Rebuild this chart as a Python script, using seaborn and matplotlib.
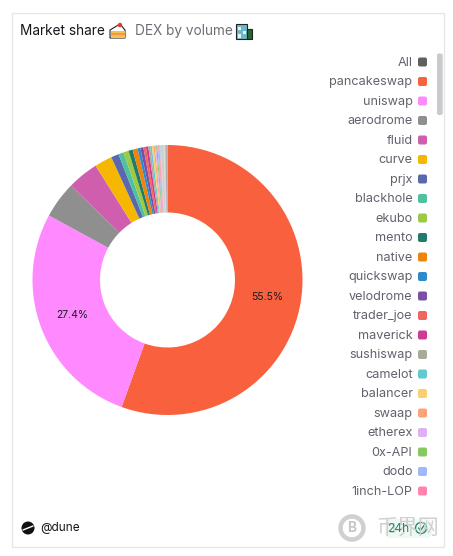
import matplotlib
matplotlib.use("Agg")
import matplotlib.pyplot as plt
import seaborn as sns
from matplotlib.patches import Circle, FancyBboxPatch, Polygon, Rectangle

# legend rows, top to bottom ("All" is a toggle, not a slice)
ROWS = ["All", "pancakeswap", "uniswap", "aerodrome", "fluid", "curve", "prjx",
        "blackhole", "ekubo", "mento", "native", "quickswap", "velodrome",
        "trader_joe", "maverick", "sushiswap", "camelot", "balancer", "swaap",
        "etherex", "0x-API", "dodo", "1inch-LOP"]
ROW_COLORS = ["#5f5f63", "#f9603d", "#ff8aff", "#8f8f8f", "#cf5fae", "#f5b700",
              "#5a68b0", "#4fc0a0", "#9acb42", "#237a6c", "#ee8408", "#2e8bcb",
              "#7a4fa8", "#f0655d", "#cf3a92", "#a8ab98", "#64c8d0", "#f8d070",
              "#ffa27a", "#e0b0f5", "#88c860", "#a0b8f5", "#ff85b0"]

# share of volume in %, estimated from the slices
SHARES = [55.5, 27.4, 4.4, 3.73, 2.1, 0.92, 0.62, 0.63, 0.5, 0.6, 0.33, 0.37,
          0.3, 0.28, 0.22, 0.2, 0.19, 0.17, 0.15, 0.14, 0.12, 0.11]
# slices past the end of the visible legend
TAIL_SHARES = [0.09, 0.09, 0.08, 0.08, 0.08, 0.07, 0.07, 0.06, 0.06, 0.05, 0.25]
TAIL_COLORS = ["#f2a8a8", "#a8c8ee", "#f5cc80", "#c4aeee", "#98d8ae", "#f39cc4",
               "#a8e0e0", "#eeda88", "#d6b8ee", "#a8d090", "#aeaeb2"]

sns.set_theme(style="white")
plt.rcParams["font.family"] = ["Inter", "DejaVu Sans"]

W, H = 453, 556
fig = plt.figure(figsize=(W / 100, H / 100), dpi=100, facecolor="white")

# overlay in pixel coordinates, y going down like the screenshot
bg = fig.add_axes([0, 0, 1, 1])
bg.set_xlim(0, W)
bg.set_ylim(H, 0)
bg.axis("off")

bg.add_patch(Rectangle((11.5, 12.5), 432, 534, fc="white", ec="#e6e6e6", lw=1))

# title
bg.text(20, 31, "Market share", fontsize=9.8, color="#14161c", va="center")
bg.text(135, 31, "DEX by volume", fontsize=9.8, color="#6e6e78", va="center")

# cake icon
bg.add_patch(Polygon([(110, 30), (120, 24), (125, 30), (125, 38), (110, 38)],
                     fc="white", ec="#222222", lw=0.8))
bg.add_patch(Rectangle((110.5, 31), 14, 6.5, fc="#f8c24a", ec="none"))
bg.add_patch(Rectangle((110.5, 33), 14, 1.6, fc="#f5935a", ec="none"))
bg.add_patch(Circle((120, 25), 2.2, fc="#d8402a", ec="none"))
# building icon
bg.add_patch(Rectangle((236, 23.5), 11, 15, fc="#6fb8c8", ec="#222222", lw=0.8))
bg.add_patch(Rectangle((247, 29), 4.5, 9.5, fc="#1f6a35", ec="#222222", lw=0.8))
bg.add_patch(Rectangle((238, 27), 3, 3, fc="#e8f4f8", ec="none"))
bg.add_patch(Rectangle((242.5, 31), 3, 3, fc="#e8f4f8", ec="none"))
bg.add_patch(Rectangle((238, 34), 3, 4, fc="#e8f4f8", ec="none"))

# legend
row_top, row_gap = 62, 19.5
for i, (name, c) in enumerate(zip(ROWS, ROW_COLORS)):
    y = row_top + i * row_gap
    bg.text(412.5, y + 0.7, name, ha="right", va="center", fontsize=9.1, color="#62626e")
    bg.add_patch(FancyBboxPatch((419, y - 3.5), 7, 7,
                                boxstyle="round,pad=1,rounding_size=2", fc=c, ec="none"))

# scrollbar
bg.add_patch(FancyBboxPatch((438, 54.5), 3.7, 59.5, boxstyle="round,pad=1,rounding_size=2",
                            fc="#c9c9ce", ec="none"))

# footer
bg.add_patch(Circle((28, 528), 6.5, fc="#111111", ec="none"))
bg.plot([23, 33], [530, 526], color="white", lw=1)
bg.text(40, 528.5, "@dune", fontsize=8.5, color="#14161c", va="center")

# watermark + refresh badge
bg.add_patch(Circle((352, 528), 11.5, fc="white", ec="#d0d0d0", lw=3.2))
bg.text(352, 528, "B", fontsize=10, color="#c8c8c8", ha="center", va="center", fontweight="bold")
bg.text(376, 528, "币界网", fontsize=15, color="#cfcfcf", va="center",
        family=["Noto Sans CJK SC", "DejaVu Sans"])
bg.add_patch(FancyBboxPatch((387, 521), 43, 15, boxstyle="round,pad=2,rounding_size=5",
                            fc="#dff5e6", ec="none", alpha=0.5))
bg.text(387, 528.5, "24h", fontsize=8.6, color="#1f8a70", va="center")
bg.add_patch(Circle((421, 528), 5.5, fc="none", ec="#1f8a70", lw=1))
bg.plot([418.5, 420.5, 424], [528, 530.5, 525.5], color="#1f8a70", lw=1)

# donut
cx, cy, r = 167.5, 280, 135
ax = fig.add_axes([(cx - r) / W, 1 - (cy + r) / H, 2 * r / W, 2 * r / H])
wedges, _ = ax.pie(SHARES + TAIL_SHARES, colors=ROW_COLORS[1:] + TAIL_COLORS,
                   startangle=90, counterclock=False, radius=1,
                   wedgeprops={"width": 0.5, "linewidth": 0})
ax.set_xlim(-1, 1)
ax.set_ylim(-1, 1)
ax.patch.set_alpha(0)
ax.text(0.74, -0.125, "55.5%", fontsize=7.5, color="#1c1c22", ha="center", va="center")
ax.text(-0.705, -0.26, "27.4%", fontsize=7.5, color="#1c1c22", ha="center", va="center")

fig.savefig("out.png", dpi=100)
